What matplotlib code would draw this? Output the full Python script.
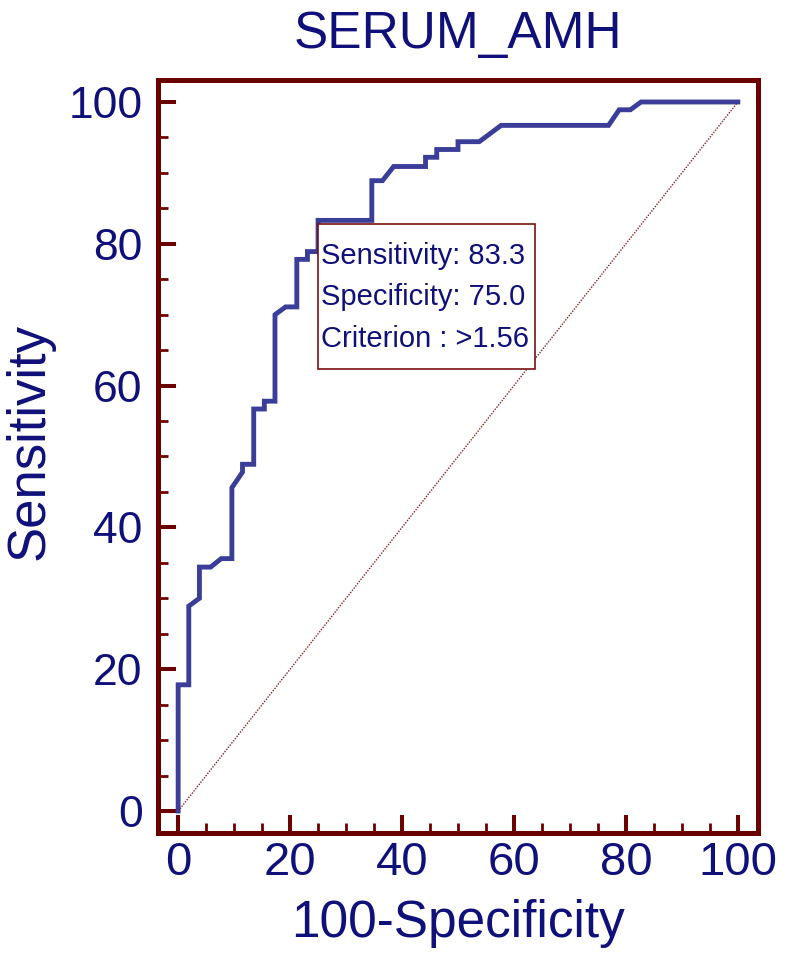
import matplotlib
matplotlib.use("Agg")
import matplotlib.pyplot as plt
from matplotlib.patches import Rectangle
from matplotlib.ticker import MultipleLocator

plt.rcParams['font.family'] = ['Liberation Sans', 'DejaVu Sans']

# ROC curve (100-specificity, sensitivity)
fpr = [0, 0, 1.9, 1.9, 3.8, 3.8, 5.8, 7.7, 9.6, 9.6, 11.5, 11.5, 13.5, 13.5,
       15.4, 15.4, 17.3, 17.3, 19.2, 21.2, 21.2, 23.1, 23.1, 25.0, 25.0,
       34.6, 34.6, 36.5, 38.5, 44.2, 44.2, 46.2, 46.2, 50.0, 50.0, 53.8,
       57.7, 76.9, 78.8, 80.8, 82.7, 100]
tpr = [0, 17.8, 17.8, 28.9, 30.0, 34.4, 34.4, 35.6, 35.6, 45.6, 47.8, 48.9,
       48.9, 56.7, 56.7, 57.8, 57.8, 70.0, 71.1, 71.1, 77.8, 77.8, 78.9,
       78.9, 83.3, 83.3, 88.9, 88.9, 90.9, 90.9, 92.2, 92.2, 93.3, 93.3,
       94.4, 94.4, 96.7, 96.7, 98.9, 98.9, 100, 100]

best_fpr = 25.0
best_sens = 83.3
best_spec = 75.0
criterion = ">1.56"
box_lines = ["Sensitivity: %.1f" % best_sens,
             "Specificity: %.1f" % best_spec,
             "Criterion : " + criterion]

navy = "#10107a"
maroon = "#6b0000"
curve_col = "#3a3e98"

fig = plt.figure(figsize=(7.86, 9.56), dpi=100)
ax = fig.add_axes([158 / 786, 1 - 833 / 956, 600 / 786, 753 / 956])

ax.plot([0, 100], [0, 100], linestyle=(0, (1, 1)), color="#8b2020", lw=1.0)
ax.plot(fpr, tpr, color=curve_col, lw=3.5, solid_joinstyle="miter")

ax.set_xlim(-3.6, 103.6)
ax.set_ylim(-3.1, 103.1)

for s in ax.spines.values():
    s.set_color(maroon)
    s.set_linewidth(3.6)

ax.xaxis.set_major_locator(MultipleLocator(20))
ax.xaxis.set_minor_locator(MultipleLocator(5))
ax.yaxis.set_major_locator(MultipleLocator(20))
ax.yaxis.set_minor_locator(MultipleLocator(5))
ax.tick_params(which="both", direction="in", color=maroon, top=False, right=False)
ax.tick_params(which="major", length=13, width=2.9)
ax.tick_params(which="minor", length=7, width=2.0)
ax.tick_params(axis="x", which="major", labelsize=34, labelcolor=navy, pad=6)
ax.tick_params(axis="y", which="major", labelsize=32, labelcolor=navy, pad=11)

# annotation box anchored at the optimal criterion point
box_top = best_sens - 0.5
ax.add_patch(Rectangle((best_fpr, 62.3), 38.75, box_top - 62.3, fill=True,
                       facecolor="white", edgecolor="#7a1010", lw=1.2, zorder=3))
for txt, yb in zip(box_lines, [77.2, 71.4, 65.4]):
    ax.text(best_fpr + 0.6, yb, txt, fontsize=21, color=navy, va="baseline",
            ha="left", zorder=4)

fig.text(458 / 786, 1 - 35 / 956, "SERUM_AMH", fontsize=37, color=navy,
         ha="center", va="center")
fig.text(458 / 786, 1 - 937 / 956, "100-Specificity", fontsize=37, color=navy,
         ha="center", va="baseline")
fig.text(30 / 786, 1 - 441 / 956, "Sensitivity", fontsize=38, color=navy,
         ha="center", va="center", rotation=90)

fig.savefig("out.png", dpi=100)
